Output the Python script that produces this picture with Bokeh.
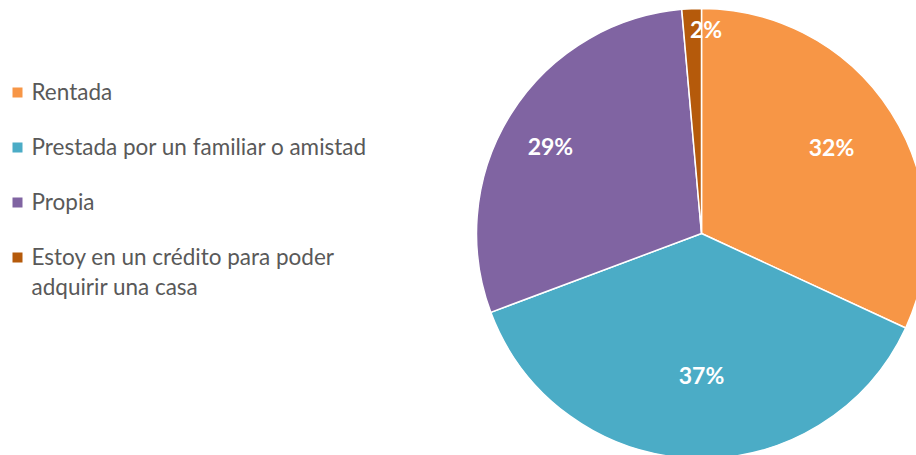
import math
from bokeh.plotting import figure
from bokeh.models import Range1d
from bokeh.core.properties import value
from bokeh.embed import file_html
from bokeh.resources import INLINE

categories = ["Rentada", "Prestada por un familiar o amistad", "Propia",
              "Estoy en un crédito para poder\nadquirir una casa"]
shares = [31.9, 37.4, 29.3, 1.4]
pct_labels = ["32%", "37%", "29%", "2%"]
colors = ["#F79646", "#4BACC6", "#8064A2", "#B55A0B"]

W, H = 916, 455
p = figure(width=W, height=H, output_backend="svg", toolbar_location=None,
           x_range=Range1d(0, W), y_range=Range1d(0, H), min_border=0,
           outline_line_color=None)
p.axis.visible = False
p.grid.visible = False
p.background_fill_color = "white"
p.border_fill_color = "white"

def px(x):
    return x

def py(y):
    return H - y

cx, cy, R = px(701), py(233), 225
total = sum(shares)
starts, ends, mids = [], [], []
acc = 0.0
for s in shares:
    a0 = math.radians(90 - 360 * acc / total)
    acc += s
    a1 = math.radians(90 - 360 * acc / total)
    starts.append(a0)
    ends.append(a1)
    mids.append((a0 + a1) / 2)

p.wedge(x=[cx] * 4, y=[cy] * 4, radius=R, start_angle=starts, end_angle=ends,
        direction="clock", fill_color=colors, line_color="white", line_width=1.5)

# label placement (fraction of radius, angular nudge in degrees)
label_r = [0.695, 0.631, 0.775, 0.911]
label_da = [1.2, 2.16, 2.25, -3.8]
lx = [cx + R * f * math.cos(m + math.radians(d)) for f, m, d in zip(label_r, mids, label_da)]
ly = [cy + R * f * math.sin(m + math.radians(d)) for f, m, d in zip(label_r, mids, label_da)]
p.text(x=lx, y=ly, text=pct_labels, text_color="white",
       text_font=value("Lato"), text_font_style="bold", text_font_size="23px",
       text_align="center", text_baseline="middle")

# legend
row_y = [92, 147, 202, 257]
p.scatter(x=[px(17)] * 4, y=[py(v) for v in row_y], marker="square", size=10,
          fill_color=colors, line_color=None)
tx, ty, tt = [], [], []
for lab, yy in zip(categories, row_y):
    for k, line in enumerate(lab.split("\n")):
        tx.append(px(31))
        ty.append(py(yy - 1.5 + 30 * k))
        tt.append(line)
p.text(x=tx, y=ty, text=tt, text_color="#595959", text_font=value("Lato"),
       text_font_size="22.5px", text_align="left", text_baseline="middle")

open("out.html", "w").write(file_html(p, INLINE))
